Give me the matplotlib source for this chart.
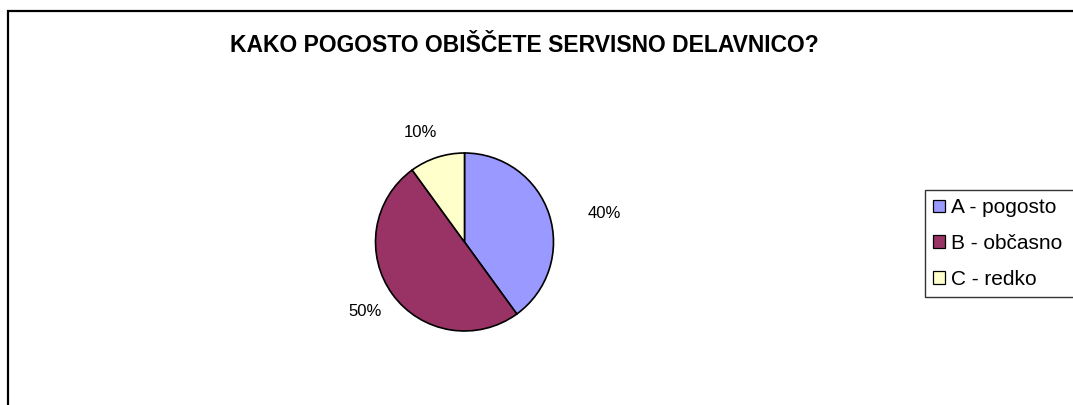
import matplotlib.pyplot as plt
import matplotlib.patches as mpatches
import numpy as np

plt.rcParams['font.family'] = ['Liberation Sans', 'DejaVu Sans']

categories = ['A - pogosto', 'B - občasno', 'C - redko']
shares = [40, 50, 10]
colors = ['#9999FF', '#993366', '#FFFFCC']
title = 'KAKO POGOSTO OBIŠČETE SERVISNO DELAVNICO?'

W, H = 1073, 405
fig = plt.figure(figsize=(W / 100, H / 100), dpi=100)

# outer chart frame (runs off right and bottom edge)
fig.patches.append(mpatches.Rectangle((8 / W, -0.1), 1.2, (H - 11) / H + 0.1,
                                      transform=fig.transFigure, fill=False,
                                      edgecolor='black', linewidth=1.6))

fig.text(524 / W, 1 - 45 / H, title, ha='center', va='center',
         fontsize=16.5, fontweight='bold')

# pie axes: centre (464, 242), radius 89 px
cx, cy, r = 464.5, 242, 89
ax = fig.add_axes([(cx - r) / W, (H - cy - r) / H, 2 * r / W, 2 * r / H])
wedges, _ = ax.pie(shares, colors=colors, startangle=90, counterclock=False,
                   radius=1, wedgeprops=dict(edgecolor='black', linewidth=1.2))
ax.set_xlim(-1, 1)
ax.set_ylim(-1, 1)
ax.set_aspect('equal')
ax.axis('off')

# percentage labels outside the wedges
lbl_dist = [1.60, 1.36, 1.33]
lbl_turn = [-6.6, -1, 4]
for w, s, d, t in zip(wedges, shares, lbl_dist, lbl_turn):
    ang = np.deg2rad((w.theta1 + w.theta2) / 2 + t)
    ax.text(d * np.cos(ang), d * np.sin(ang), f'{s}%', ha='center', va='center',
            fontsize=12, clip_on=False)

# legend box is cut off by the right image edge, as in the original
handles = [mpatches.Patch(facecolor=c, edgecolor='black', linewidth=0.9) for c in colors]
leg = fig.legend(handles, categories, loc='upper left', mode='expand',
                 bbox_to_anchor=(925 / W, 1 - 190 / H, 200 / W, 0), fontsize=15,
                 frameon=True, fancybox=False, edgecolor='black',
                 handlelength=0.55, handleheight=0.55, handletextpad=0.3,
                 borderpad=0.4, labelspacing=0.8, borderaxespad=0)
leg.get_frame().set_linewidth(1.0)

fig.savefig('out.png', dpi=100, facecolor='white')
